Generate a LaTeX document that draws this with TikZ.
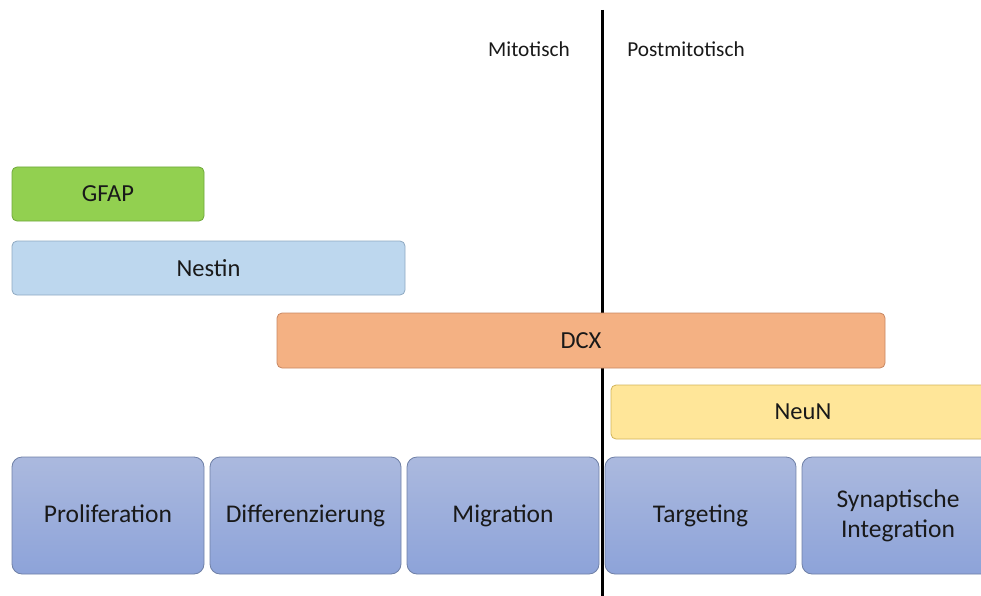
\documentclass[tikz,border=0pt]{standalone}
\usepackage{fontspec}
\setmainfont{Carlito}
\definecolor{phasetop}{HTML}{ABB9DE}
\definecolor{phasebot}{HTML}{8DA3D9}
\definecolor{phaseborder}{HTML}{6F80A6}
\definecolor{gfapfill}{HTML}{92D050}
\definecolor{gfapdraw}{HTML}{6FA83A}
\definecolor{nestfill}{HTML}{BDD7EE}
\definecolor{nestdraw}{HTML}{8FA9C2}
\definecolor{dcxfill}{HTML}{F4B183}
\definecolor{dcxdraw}{HTML}{C88762}
\definecolor{neunfill}{HTML}{FFE699}
\definecolor{neundraw}{HTML}{D2B45A}
\begin{document}
\begin{tikzpicture}[x=1pt,y=-1pt,
  bar/.style={draw, line width=0.8pt, rounded corners=5pt, inner sep=0pt, text=black!90,
     font=\fontsize{24.5}{28}\selectfont},
  phase/.style={draw=phaseborder, line width=0.8pt, rounded corners=10pt, inner sep=0pt,
     top color=phasetop, bottom color=phasebot, text=black!90, align=center,
     font=\fontsize{25.5}{30}\selectfont},
  lbl/.style={inner sep=0pt, text=black!90, font=\fontsize{21.3}{24}\selectfont}]
\useasboundingbox (0,0) rectangle (981,596);
\coordinate (ltop) at (602,10);
\coordinate (lbot) at (602,596);
\draw[line width=3pt] (ltop) -- (lbot);
\node[lbl] (mit) at (529,49) {Mitotisch};
\node[lbl] (post) at (686,49) {Postmitotisch};
\node[bar, fill=gfapfill, draw=gfapdraw, minimum width=192pt, minimum height=54pt] (gfap) at (108,194) {GFAP};
\node[bar, fill=nestfill, draw=nestdraw, minimum width=393pt, minimum height=54pt] (nestin) at (208.5,268) {Nestin};
\node[bar, fill=dcxfill, draw=dcxdraw, minimum width=608pt, minimum height=55pt] (dcx) at (581,340.5) {DCX};
\node[bar, fill=neunfill, draw=neundraw, minimum width=384pt, minimum height=54pt] (neun) at (803,412) {NeuN};
\node[phase, minimum width=192pt, minimum height=117pt] (prol) at (108,515.5) {Proliferation\vphantom{g}};
\node[phase, minimum width=191pt, minimum height=117pt] (diff) at (305.5,515.5) {Differenzierung};
\node[phase, minimum width=192pt, minimum height=117pt] (migr) at (503,515.5) {Migration};
\node[phase, minimum width=191pt, minimum height=117pt] (targ) at (700.5,515.5) {Targeting};
\node[phase, minimum width=192pt, minimum height=117pt] (syn) at (898,515.5) {Synaptische\\Integration};
\end{tikzpicture}
\end{document}
